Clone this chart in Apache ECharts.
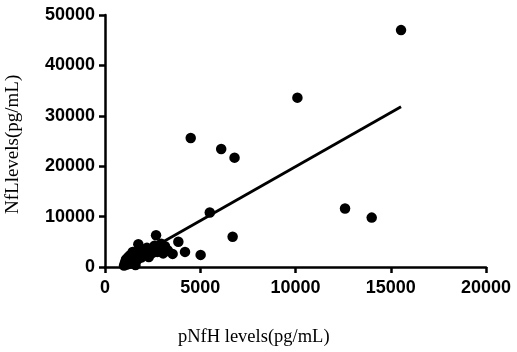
<!DOCTYPE html>
<html>
<head>
<meta charset="utf-8">
<script src="https://cdn.jsdelivr.net/npm/echarts@6/dist/echarts.min.js"></script>
<style>html,body{margin:0;padding:0;background:#fff}#c{width:517px;height:352px}</style>
</head>
<body>
<div id="c"></div>
<script>
// pNfH (x) and NfL (y) values, pg/mL
const pNfH = [1000,1050,1100,1150,1200,1250,1300,1350,1400,1450,1500,1550,1600,1650,1700,1750,1800,1850,1900,2000,2100,2200,2300,2400,2500,2600,2680,2750,2850,2950,3050,3150,3300,3550,3850,4200,5020,5500,6700,4500,6100,6800,10100,12600,14000,15540];
const NfL  = [300,900,1500,500,1900,1100,2300,700,1600,3000,1200,2100,400,2700,1500,4500,3600,2400,1900,3200,2600,3800,2000,3300,2800,4200,6300,3000,3600,4600,2700,4100,3300,2600,5000,3000,2400,10800,6000,25600,23400,21700,33600,11600,9800,47000];
// regression line endpoints
const fitX = [1000, 15540];
const fitY = [600, 31780];
const xTicks = [0, 5000, 10000, 15000, 20000];
const yTicks = [0, 10000, 20000, 30000, 40000, 50000];

const chart = echarts.init(document.getElementById('c'), null, {renderer:'canvas'});
const axisCommon = {
  axisLine:{show:true, onZero:false, lineStyle:{color:'#000', width:2.5}},
  axisTick:{show:true, inside:false, length:6, lineStyle:{color:'#000', width:2.5}},
  splitLine:{show:false},
  axisLabel:{color:'#000', fontFamily:'Liberation Sans, Arial', fontWeight:'bold', fontSize:18, formatter:v=>String(v)}
};
chart.setOption({
  animation:false,
  grid:{left:105, right:31, top:15, bottom:85, containLabel:false},
  xAxis:Object.assign({type:'value', min:xTicks[0], max:xTicks[xTicks.length-1], interval:5000}, axisCommon,
    {axisLabel:Object.assign({}, axisCommon.axisLabel, {margin:12})}),
  yAxis:Object.assign({type:'value', min:yTicks[0], max:yTicks[yTicks.length-1], interval:10000}, axisCommon,
    {axisLabel:Object.assign({}, axisCommon.axisLabel, {margin:10})}),
  graphic:[
    {type:'text', left:178, top:328, style:{text:'pNfH levels(pg/mL)', font:'18.5px "Liberation Serif", "Times New Roman", serif', fill:'#000'}},
    {type:'text', x:4, y:214, rotation:Math.PI/2, style:{text:'NfLlevels(pg/mL)', font:'19px "Liberation Serif", "Times New Roman", serif', fill:'#000'}}
  ],
  series:[
    {type:'scatter', symbol:'circle', symbolSize:10.5, itemStyle:{color:'#000', opacity:1},
     data:pNfH.map((x,i)=>[x, NfL[i]])},
    {type:'line', symbol:'none', lineStyle:{color:'#000', width:2.8}, z:3,
     data:fitX.map((x,i)=>[x, fitY[i]])}
  ]
});
</script>
</body>
</html>
